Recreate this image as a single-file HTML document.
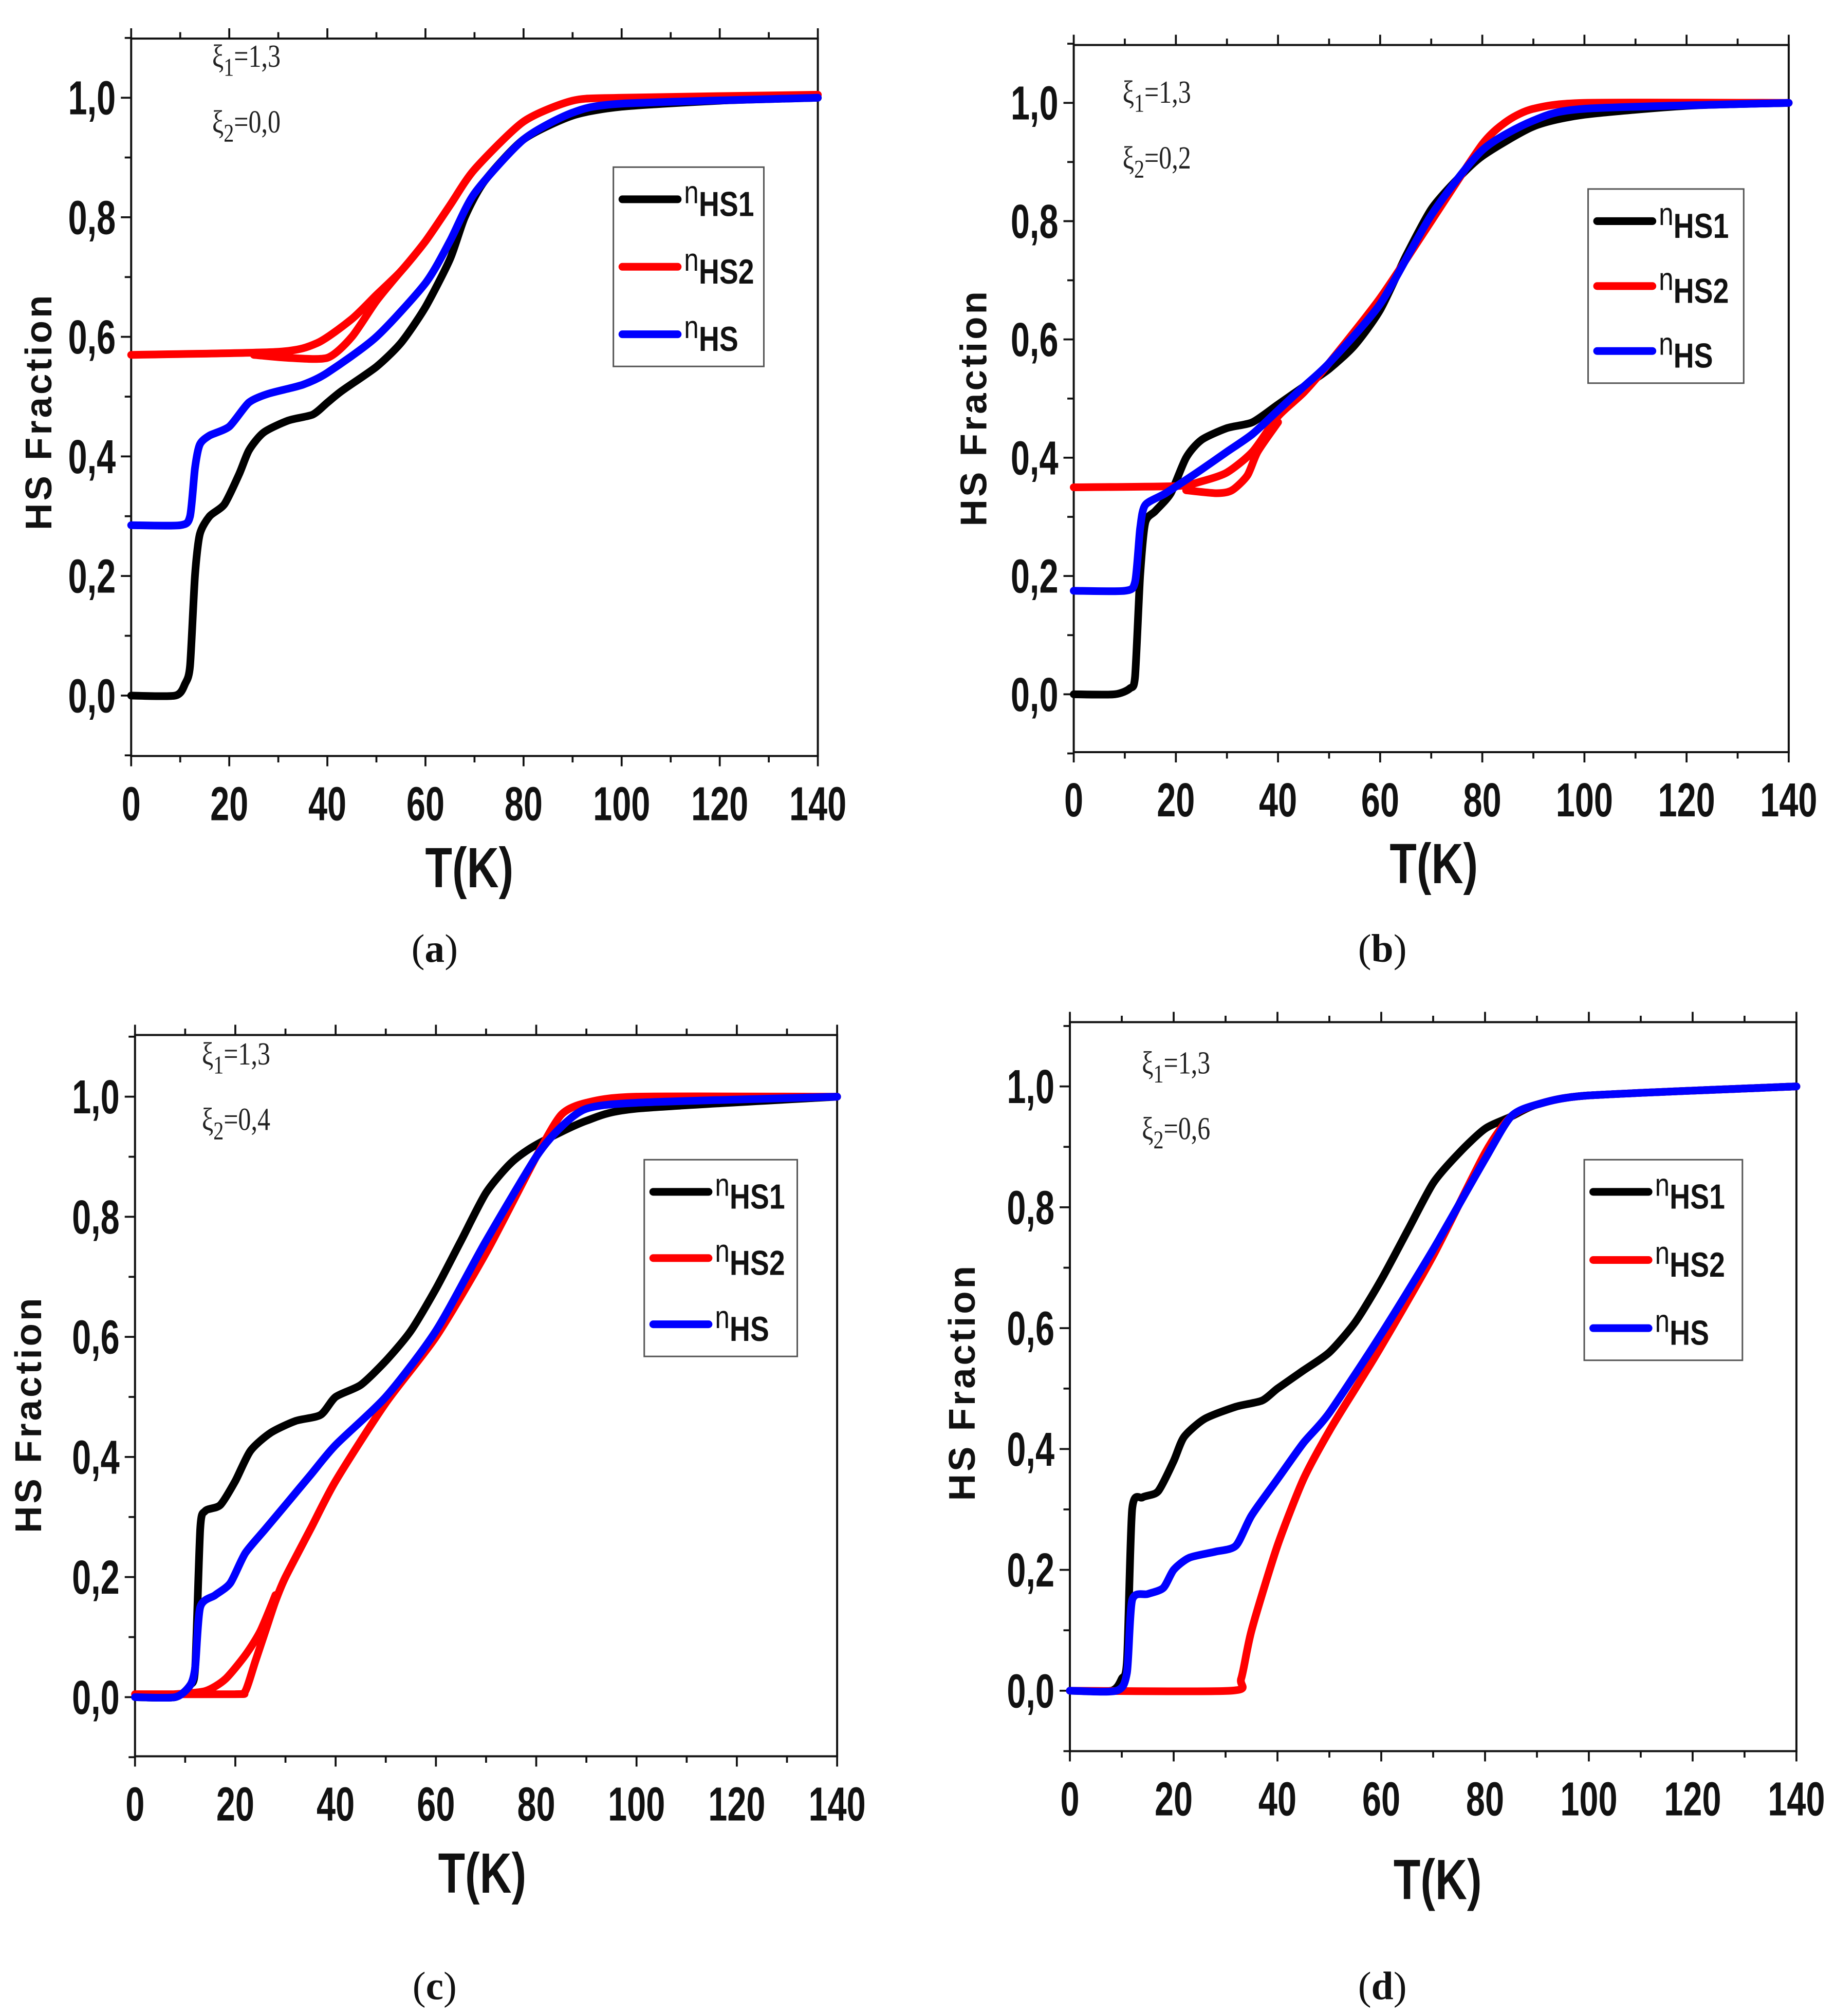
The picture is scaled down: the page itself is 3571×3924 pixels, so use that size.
<!DOCTYPE html>
<html><head><meta charset="utf-8">
<style>
html,body{margin:0;padding:0;background:#fff;}
svg{display:block;}
.tick{font-family:"Liberation Sans",sans-serif;font-weight:bold;font-size:37px;fill:#111;}
.ttl{font-family:"Liberation Sans",sans-serif;font-weight:bold;fill:#111;}
.xi{font-family:"Liberation Serif",serif;font-size:25px;fill:#222;}
.cap{font-family:"Liberation Serif",serif;font-size:31px;fill:#111;}
.leg{font-family:"Liberation Sans",sans-serif;font-weight:bold;font-size:27px;fill:#111;}
</style></head>
<body>
<svg id="fig" width="3571" height="3924" viewBox="0 0 1427 1568" preserveAspectRatio="none" xmlns="http://www.w3.org/2000/svg"></svg>
<script>
// ---- data ----
const xTicks = [0,20,40,60,80,100,120,140];
const yTicks = [0.0,0.2,0.4,0.6,0.8,1.0];
const yTickLabels = ["0,0","0,2","0,4","0,6","0,8","1,0"];
const seriesNames = ["HS1","HS2","HS"];
const seriesColors = ["#000000","#ff0000","#0000ff"];
const xi1Labels = ["1,3","1,3","1,3","1,3"];
const xi2Labels = ["0,0","0,2","0,4","0,6"];
const panelLetters = ["a","b","c","d"];

const aBlack = [[0,0],[9,0],[11,0.02],[12,0.05],[13,0.2],[14,0.27],[16,0.3],[19,0.32],[22,0.37],[24,0.41],[27,0.44],[32,0.46],[37,0.47],[40,0.49],[43,0.51],[50,0.55],[55,0.59],[60,0.65],[65,0.73],[68,0.8],[72,0.86],[80,0.93],[90,0.97],[100,0.985],[120,0.995],[140,1.0]];
const aRed = [[0,0.57],[30,0.575],[38,0.59],[45,0.63],[50,0.67],[55,0.71],[60,0.76],[65,0.82],[70,0.88],[80,0.96],[90,0.995],[100,1.0],[140,1.005]];
const aRed2 = [[25,0.57],[32,0.565],[40,0.565],[45,0.6],[50,0.66],[55,0.71]];
const aBlue = [[0,0.285],[10,0.285],[12,0.3],[13,0.38],[14,0.42],[16,0.435],[20,0.45],[24,0.49],[28,0.505],[35,0.52],[40,0.54],[50,0.6],[60,0.69],[65,0.76],[70,0.84],[80,0.93],[90,0.975],[100,0.99],[140,1.0]];

const bBlack = [[0,0],[8,0],[11,0.01],[12,0.03],[13,0.2],[14,0.29],[16,0.31],[19,0.34],[22,0.4],[25,0.43],[30,0.45],[35,0.46],[40,0.49],[45,0.52],[50,0.55],[55,0.59],[60,0.65],[65,0.74],[70,0.82],[75,0.87],[80,0.91],[90,0.96],[100,0.98],[120,0.995],[140,1.0]];
const bRed = [[0,0.35],[20,0.352],[25,0.36],[30,0.375],[35,0.41],[40,0.47],[45,0.51],[50,0.56],[60,0.67],[70,0.8],[80,0.93],[85,0.97],[90,0.99],[100,1.0],[140,1.0]];
const bRed2 = [[22,0.345],[28,0.34],[31,0.345],[34,0.37],[36,0.41],[40,0.46]];
const bBlue = [[0,0.175],[10,0.175],[12,0.19],[13,0.28],[14,0.32],[18,0.34],[25,0.38],[30,0.41],[35,0.44],[40,0.48],[45,0.52],[50,0.56],[60,0.66],[70,0.81],[80,0.92],[90,0.97],[100,0.99],[140,1.0]];

const cBlack = [[0,0],[8,0],[11,0.02],[12,0.05],[13,0.28],[14,0.31],[17,0.32],[20,0.36],[23,0.41],[27,0.44],[32,0.46],[37,0.47],[40,0.5],[45,0.52],[50,0.56],[55,0.61],[60,0.68],[65,0.76],[70,0.84],[75,0.89],[80,0.92],[90,0.96],[100,0.98],[140,1.0]];
const cRed = [[0,0.005],[20,0.005],[22,0.01],[24,0.06],[26,0.11],[28,0.16],[30,0.2],[35,0.28],[40,0.36],[50,0.49],[60,0.6],[70,0.74],[80,0.9],[85,0.97],[90,0.99],[100,1.0],[140,1.0]];
const cRed2 = [[8,0.005],[14,0.01],[18,0.03],[22,0.07],[25,0.11],[28,0.17]];
const cBlue = [[0,0],[8,0],[11,0.02],[12,0.05],[13,0.15],[16,0.17],[19,0.19],[22,0.24],[26,0.28],[30,0.32],[35,0.37],[40,0.42],[50,0.5],[60,0.61],[70,0.76],[80,0.9],[85,0.95],[90,0.98],[100,0.99],[140,1.0]];

const dBlack = [[0,0],[8,0],[10,0.02],[11,0.05],[12,0.3],[14,0.32],[17,0.33],[20,0.38],[22,0.42],[26,0.45],[32,0.47],[37,0.48],[40,0.5],[45,0.53],[50,0.56],[55,0.61],[60,0.68],[65,0.76],[70,0.84],[75,0.89],[80,0.93],[85,0.95],[90,0.97],[100,0.985],[140,1.0]];
const dRed = [[0,0],[31,0],[33,0.02],[35,0.1],[40,0.24],[45,0.35],[50,0.43],[55,0.5],[60,0.57],[70,0.72],[80,0.89],[85,0.95],[90,0.97],[100,0.985],[140,1.0]];
const dBlue = [[0,0],[9,0],[11,0.03],[12,0.15],[15,0.16],[18,0.17],[20,0.2],[23,0.22],[28,0.23],[32,0.24],[35,0.29],[40,0.35],[45,0.41],[50,0.46],[60,0.59],[70,0.73],[80,0.88],[85,0.95],[90,0.97],[100,0.985],[140,1.0]];

const panelSeries = [
  [[aBlack,0],[aRed,1],[aRed2,1],[aBlue,2]],
  [[bBlack,0],[bRed,1],[bRed2,1],[bBlue,2]],
  [[cBlack,0],[cRed,1],[cRed2,1],[cBlue,2]],
  [[dBlack,0],[dRed,1],[dBlue,2]]
];

// ---- layout (geometry) ----
const layout = [
  {L:102,R:636,T:30,B:588,y1:76,y0:541,leg:[477,130,117,155],xi:[165,52],cap:[338,748],xt:[365,690],yt:[30,320]},
  {L:835,R:1391,T:35,B:585,y1:80,y0:540,leg:[1235,147,121,151],xi:[873,80],cap:[1075,748],xt:[1115,687],yt:[757,317]},
  {L:105,R:651,T:805,B:1366,y1:853,y0:1320,leg:[501,902,119,153],xi:[157,828],cap:[338,1555],xt:[375,1472],yt:[22,1100]},
  {L:832,R:1397,T:795,B:1362,y1:845,y0:1315,leg:[1232,902,123,156],xi:[888,835],cap:[1075,1555],xt:[1118,1477],yt:[748,1075]}
];

const NS="http://www.w3.org/2000/svg";
const svg=document.getElementById('fig');
function mk(tag,attrs,parent){const e=document.createElementNS(NS,tag);for(const k in attrs)e.setAttribute(k,attrs[k]);(parent||svg).appendChild(e);return e;}
function smooth(P){
  if(P.length<3) return P.map((q,k)=>(k?'L':'M')+q[0].toFixed(1)+','+q[1].toFixed(1)).join('');
  let d='M'+P[0][0].toFixed(1)+','+P[0][1].toFixed(1);
  const t=0.12;
  for(let k=0;k<P.length-1;k++){
    const p0=P[k-1]||P[k],p1=P[k],p2=P[k+1],p3=P[k+2]||P[k+1];
    const c1=[p1[0]+(p2[0]-p0[0])*t,p1[1]+(p2[1]-p0[1])*t];
    const c2=[p2[0]-(p3[0]-p1[0])*t,p2[1]-(p3[1]-p1[1])*t];
    d+='C'+c1[0].toFixed(1)+','+c1[1].toFixed(1)+' '+c2[0].toFixed(1)+','+c2[1].toFixed(1)+' '+p2[0].toFixed(1)+','+p2[1].toFixed(1);
  }
  return d;
}

layout.forEach((p,i)=>{
  const g=mk('g',{});
  
  
  const xs=v=>p.L+(v-0)/(140-0)*(p.R-p.L);
  const ys=v=>p.y0+(v-0)/(1-0)*(p.y1-p.y0);
  const fr=mk('rect',{x:p.L,y:p.T,width:p.R-p.L,height:p.B-p.T,fill:'none',stroke:'#111','stroke-width':1.6},g);
  
  
  for(let v=0;v<=140;v+=10){
    const major=v%20===0;const len=major?8:5;
    mk('line',{x1:xs(v),x2:xs(v),y1:p.B,y2:p.B+len,stroke:'#111','stroke-width':1.5},g);
    mk('line',{x1:xs(v),x2:xs(v),y1:p.T,y2:p.T-len,stroke:'#111','stroke-width':1.5},g);
  }
  xTicks.forEach(v=>{
    const t=mk('text',{x:xs(v),y:p.B+50,'text-anchor':'middle',class:'tick',transform:`translate(${xs(v)},0) scale(0.72,1) translate(${-xs(v)},0)`},g);
    t.textContent=String(v);
    
    
  });
  for(let k=-1;k<=11;k++){
    const v=k/10;const major=k%2===0;const len=major?8:5;
    mk('line',{x1:p.L,x2:p.L-len,y1:ys(v),y2:ys(v),stroke:'#111','stroke-width':1.5},g);
  }
  yTicks.forEach((v,j)=>{
    const x=p.L-12;
    const t=mk('text',{x:x,y:ys(v)+13,'text-anchor':'end',class:'tick',transform:`translate(${x},0) scale(0.72,1) translate(${-x},0)`},g);
    t.textContent=yTickLabels[j];
    
    
  });
  const xt=mk('text',{x:p.xt[0],y:p.xt[1],'text-anchor':'middle',class:'ttl','font-size':44,transform:`translate(${p.xt[0]},0) scale(0.78,1) translate(${-p.xt[0]},0)`},g);
  xt.textContent='T(K)';
  
  
  const yt=mk('text',{x:0,y:0,'text-anchor':'middle',class:'ttl','font-size':29,'letter-spacing':2,transform:`translate(${p.yt[0]+10},${p.yt[1]}) rotate(-90)`},g);
  yt.textContent='HS Fraction';
  
  
  const a1=mk('text',{x:p.xi[0],y:p.xi[1],class:'xi',transform:`translate(${p.xi[0]},0) scale(0.8,1) translate(${-p.xi[0]},0)`},g);
  a1.innerHTML='ξ<tspan font-size="20" dy="7">1</tspan><tspan dy="-7">='+xi1Labels[i]+'</tspan>';
  
  
  const a2=mk('text',{x:p.xi[0],y:p.xi[1]+51,class:'xi',transform:`translate(${p.xi[0]},0) scale(0.8,1) translate(${-p.xi[0]},0)`},g);
  a2.innerHTML='ξ<tspan font-size="20" dy="7">2</tspan><tspan dy="-7">='+xi2Labels[i]+'</tspan>';
  
  
  panelSeries[i].forEach(([pts,ci])=>{
    const P=pts.map(q=>[xs(q[0]),ys(q[1])]);
    const pa=mk('path',{d:smooth(P),fill:'none',stroke:seriesColors[ci],'stroke-width':6,'stroke-linejoin':'round','stroke-linecap':'round'},g);
    
    
  });
  const [lx,ly,lw,lh]=p.leg;
  const lg=mk('g',{},g);
  
  
  mk('rect',{x:lx,y:ly,width:lw,height:lh,fill:'#fff',stroke:'#555','stroke-width':1.2},lg);
  seriesNames.forEach((n,k)=>{
    const yy=ly+25+k*(lh-50)/2;
    const en=mk('g',{},lg);
    
    
    mk('line',{x1:lx+7,x2:lx+50,y1:yy,y2:yy,stroke:seriesColors[k],'stroke-width':6,'stroke-linecap':'round'},en);
    const tx=lx+55;
    const t=mk('text',{x:tx,y:yy+3,class:'leg',transform:`translate(${tx},0) scale(0.82,1) translate(${-tx},0)`},en);
    t.innerHTML='<tspan font-size="25" font-weight="normal">n</tspan><tspan dy="10">'+n+'</tspan>';
  });
  const c=mk('text',{x:p.cap[0],y:p.cap[1],'text-anchor':'middle',class:'cap'},g);
  c.innerHTML='(<tspan font-weight="bold">'+panelLetters[i]+'</tspan>)';
  
  
});
</script>
</body></html>
